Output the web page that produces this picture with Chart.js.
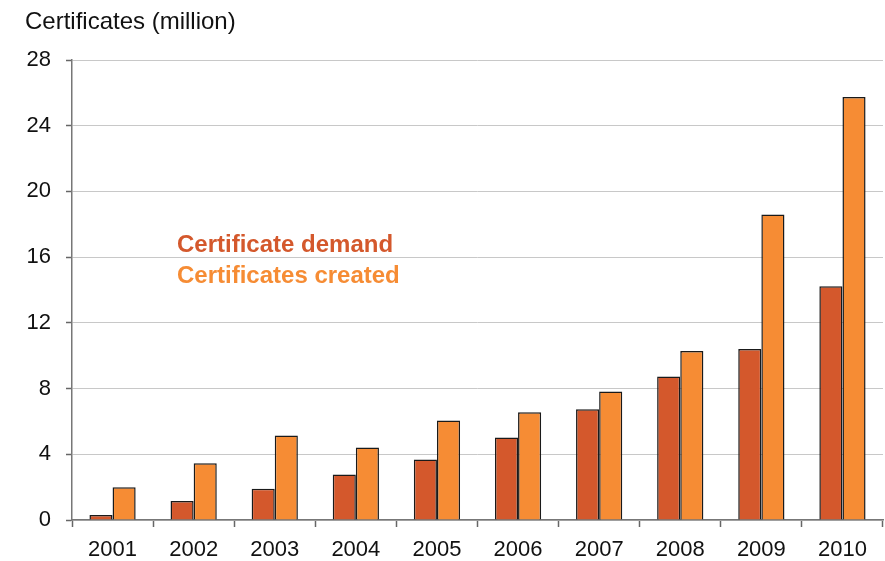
<!DOCTYPE html>
<html>
<head>
<meta charset="utf-8">
<script src="https://cdn.jsdelivr.net/npm/chart.js@4.4.1/dist/chart.umd.min.js"></script>
<style>
  html, body { margin: 0; padding: 0; background: #fff; }
  #wrap { width: 885px; height: 561px; }
</style>
</head>
<body>
<div id="wrap"><canvas id="certChart" width="885" height="561"></canvas></div>
<script>
const years = ['2001', '2002', '2003', '2004', '2005', '2006', '2007', '2008', '2009', '2010'];
const demand = [0.3, 1.15, 1.9, 2.77, 3.68, 5.02, 6.74, 8.74, 10.41, 14.23];
const created = [2.0, 3.46, 5.14, 4.41, 6.05, 6.56, 7.82, 10.29, 18.6, 25.75];
const yTicks = [0, 4, 8, 12, 16, 20, 24, 28];

const demandColor = '#D4582C';
const createdColor = '#F68C34';
const font = 'Liberation Sans, Arial, sans-serif';

// axis title and the in-plot legend text
const textPlugin = {
  id: 'texts',
  afterDraw(chart) {
    const ctx = chart.ctx;
    ctx.save();
    ctx.textBaseline = 'middle';
    ctx.textAlign = 'left';
    ctx.fillStyle = '#111';
    ctx.font = '24px ' + font;
    ctx.fillText('Certificates (million)', 25, 22);
    ctx.font = 'bold 24px ' + font;
    ctx.fillStyle = demandColor;
    ctx.fillText('Certificate demand', 177, 245);
    ctx.fillStyle = createdColor;
    ctx.fillText('Certificates created', 177, 276);
    ctx.restore();
  }
};

new Chart(document.getElementById('certChart').getContext('2d'), {
  type: 'bar',
  data: {
    labels: years,
    datasets: [
      {
        label: 'Certificate demand',
        data: demand,
        backgroundColor: demandColor,
        borderColor: '#1a1a1a',
        borderWidth: 1.5,
        borderSkipped: 'bottom',
        categoryPercentage: 0.57,
        barPercentage: 1.0
      },
      {
        label: 'Certificates created',
        data: created,
        backgroundColor: createdColor,
        borderColor: '#1a1a1a',
        borderWidth: 1.5,
        borderSkipped: 'bottom',
        categoryPercentage: 0.57,
        barPercentage: 1.0
      }
    ]
  },
  options: {
    responsive: false,
    animation: false,
    devicePixelRatio: 1,
    layout: { padding: { top: 60, right: 2, left: 0, bottom: 0 } },
    plugins: {
      legend: { display: false },
      tooltip: { enabled: false }
    },
    scales: {
      x: {
        grid: {
          display: true,
          offset: true,
          drawOnChartArea: false,
          drawTicks: true,
          tickLength: 7,
          tickColor: '#666',
          tickWidth: 1.5
        },
        border: { color: '#777', width: 1.5 },
        ticks: {
          color: '#111',
          font: { family: font, size: 22 },
          padding: 10,
          maxRotation: 0
        },
        afterFit(scale) { scale.height = 41; }
      },
      y: {
        min: 0,
        max: 28,
        afterBuildTicks(scale) { scale.ticks = yTicks.map(v => ({ value: v })); },
        grid: {
          color: '#c8c8c8',
          lineWidth: 1,
          drawTicks: true,
          tickLength: 6,
          tickColor: '#666',
          tickWidth: 1.5
        },
        border: { color: '#777', width: 1.5 },
        ticks: {
          color: '#111',
          font: { family: font, size: 22 },
          padding: 15
        },
        afterFit(scale) { scale.width = 72; }
      }
    }
  },
  plugins: [textPlugin]
});
</script>
</body>
</html>
